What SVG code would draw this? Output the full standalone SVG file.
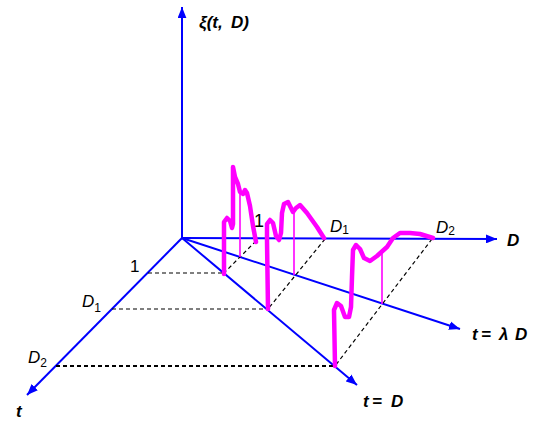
<svg xmlns="http://www.w3.org/2000/svg" width="539" height="423" viewBox="0 0 539 423">
<style>
.ax{stroke:#0000FF;stroke-width:2;fill:none}
.dash{stroke:#000;stroke-width:1.2;stroke-dasharray:4,3;fill:none}
.curve{stroke:#FF00FF;stroke-width:4.5;fill:none;stroke-linejoin:round;stroke-linecap:round}
.thin{stroke:#FF00FF;stroke-width:1.6;fill:none}
.lb{font-family:"Liberation Sans",Arial,sans-serif;font-weight:bold;font-style:italic;font-size:17px;fill:#000}
.nm{font-family:"Liberation Sans",Arial,sans-serif;font-size:17px;fill:#000}
.it{font-style:italic}
.sub{font-size:12px}
</style>
<defs>
<marker id="ah" viewBox="0 0 10 8" refX="10" refY="4" markerWidth="11" markerHeight="9" markerUnits="userSpaceOnUse" orient="auto">
<path d="M0,0 L10,4 L0,8 z" fill="#0000FF"/>
</marker>
</defs>
<g id="connectors">
<line class="ax" x1="182" y1="238" x2="182" y2="7" marker-end="url(#ah)"/>
<line class="ax" x1="182" y1="238" x2="497" y2="239" marker-end="url(#ah)"/>
<line class="ax" x1="182" y1="238" x2="27" y2="395" marker-end="url(#ah)"/>
<line class="ax" x1="182" y1="238" x2="357" y2="385" marker-end="url(#ah)"/>
<line class="ax" x1="182" y1="238" x2="460" y2="329" marker-end="url(#ah)"/>
<line class="dash" x1="148" y1="273" x2="224" y2="273"/>
<line class="dash" x1="112" y1="309" x2="268" y2="309"/>
<line class="dash" x1="56" y1="366" x2="334" y2="366" style="stroke-width:1.8"/>
<line class="dash" x1="256" y1="241" x2="224" y2="273"/>
<line class="dash" x1="325" y1="239" x2="268" y2="309"/>
<line class="dash" x1="432" y1="239" x2="335" y2="366"/>
</g>
<g id="curves">
<line class="thin" x1="240" y1="193" x2="240" y2="257"/>
<line class="thin" x1="294" y1="208" x2="294" y2="275"/>
<line class="thin" x1="382" y1="253" x2="382" y2="304"/>
<path class="curve" d="M224,274 L224,222 L227,218 L230,221 L232,228 L233,224 L233,185 L233,167 L235,177 L238,184 L240,192 L243,194 L245,190 L247,193 L250,206 L253,226 L256,242"/>
<path class="curve" d="M268,309 L267,240 L267,224 L270,220 L273,223 L276,236 L279,240 L281,233 L282,213 L284,204 L288,202 L293,212 L296,208 L300,205 L307,213 L317,227 L324,238"/>
<path class="curve" d="M335,366 L334,310 L337,303 L341,306 L345,317 L349,317 L351,307 L352,277 L353,250 L356,245 L360,249 L364,258 L370,261 L377,256 L387,247 L393,238 L400,233 L410,233 L420,234 L433,238"/>
</g>
<g id="labels">
<text class="lb" x="199" y="28">ξ(t, <tspan x="231">D</tspan>)</text>
<text class="lb" x="507" y="246">D</text>
<text class="lb" x="16" y="417">t</text>
<text class="lb" x="363" y="407">t<tspan x="372">=</tspan><tspan x="391">D</tspan></text>
<text class="lb" x="472" y="340">t<tspan x="481">=</tspan><tspan x="499">λ</tspan><tspan x="515">D</tspan></text>
<text class="nm" x="254" y="227" style="font-size:18px">1</text>
<text class="nm" x="330" y="232"><tspan class="it">D</tspan><tspan class="sub" y="234">1</tspan></text>
<text class="nm" x="436" y="233"><tspan class="it">D</tspan><tspan class="sub" y="235">2</tspan></text>
<text class="nm" x="130" y="272">1</text>
<text class="nm" x="82" y="307"><tspan class="it">D</tspan><tspan class="sub" y="312">1</tspan></text>
<text class="nm" x="28" y="363"><tspan class="it">D</tspan><tspan class="sub" y="367">2</tspan></text>
</g>
</svg>
